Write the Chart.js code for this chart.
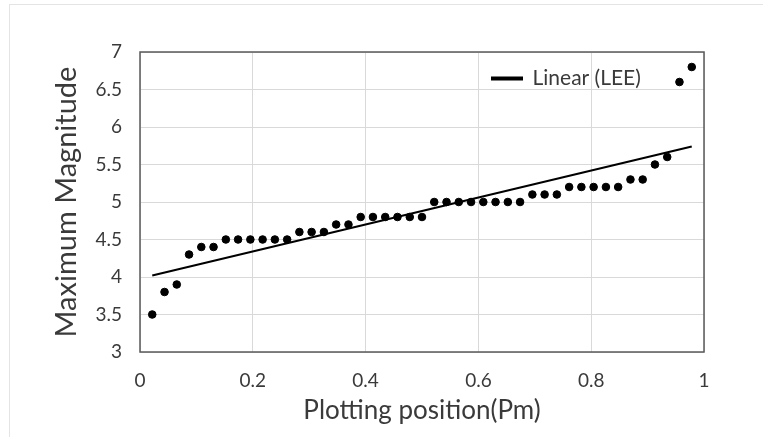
<!DOCTYPE html>
<html>
<head>
<meta charset="utf-8">
<script src="https://cdn.jsdelivr.net/npm/chart.js@4/dist/chart.umd.min.js"></script>
<style>
  html, body { margin: 0; padding: 0; background: #ffffff; }
  #wrap { position: relative; width: 763px; height: 437px; overflow: hidden; }
  #frame { position: absolute; left: 9px; top: 4px; right: -2px; bottom: -2px; border-top: 1px solid #e4e4e4; border-left: 1px solid #e4e4e4; pointer-events: none; }
  canvas { display: block; }
</style>
</head>
<body>
<div id="wrap">
<canvas id="c" width="763" height="437"></canvas>
<div id="frame"></div>
</div>
<script>
// Plotting position (Pm) of each observation
const plottingPosition = [
  0.0217, 0.0435, 0.0652, 0.0870, 0.1087, 0.1304, 0.1522, 0.1739, 0.1957, 0.2174,
  0.2391, 0.2609, 0.2826, 0.3043, 0.3261, 0.3478, 0.3696, 0.3913, 0.4130, 0.4348,
  0.4565, 0.4783, 0.5000, 0.5217, 0.5435, 0.5652, 0.5870, 0.6087, 0.6304, 0.6522,
  0.6739, 0.6957, 0.7174, 0.7391, 0.7609, 0.7826, 0.8043, 0.8261, 0.8478, 0.8696,
  0.8913, 0.9130, 0.9348, 0.9565, 0.9783
];
// Maximum magnitude of each observation
const maxMagnitude = [
  3.5, 3.8, 3.9, 4.3, 4.4, 4.4, 4.5, 4.5, 4.5, 4.5,
  4.5, 4.5, 4.6, 4.6, 4.6, 4.7, 4.7, 4.8, 4.8, 4.8,
  4.8, 4.8, 4.8, 5.0, 5.0, 5.0, 5.0, 5.0, 5.0, 5.0,
  5.0, 5.1, 5.1, 5.1, 5.2, 5.2, 5.2, 5.2, 5.2, 5.3,
  5.3, 5.5, 5.6, 6.6, 6.8
];
// Linear trend line (LEE) end points
const trendX = [0.0217, 0.9783];
const trendY = [4.02, 5.74];
const trendLabel = 'Linear (LEE)';

const xTickLabels = ['0', '0.2', '0.4', '0.6', '0.8', '1'];
const yTickLabels = ['3', '3.5', '4', '4.5', '5', '5.5', '6', '6.5', '7'];
const xTitle = 'Plotting position(Pm)';
const yTitle = 'Maximum Magnitude';

const scatterPoints = plottingPosition.map((x, i) => ({ x: x, y: maxMagnitude[i] }));
const trendPoints = trendX.map((x, i) => ({ x: x, y: trendY[i] }));

const FONT = 'Lato, "Open Sans", "Liberation Sans", sans-serif';
const TEXT = '#3a3a3a';

const plotBorder = {
  id: 'plotBorder',
  afterDatasetsDraw(chart) {
    const a = chart.chartArea, ctx = chart.ctx;
    ctx.save();
    ctx.strokeStyle = '#5a5a5a';
    ctx.lineWidth = 1.5;
    ctx.strokeRect(a.left, a.top, a.right - a.left, a.bottom - a.top);
    ctx.restore();
  }
};

const placeLegend = {
  id: 'placeLegend',
  afterLayout(chart) {
    const lg = chart.legend;
    if (!lg) return;
    const w = lg.width, h = lg.height;
    lg.left = 486; lg.right = lg.left + w;
    lg.top = 62; lg.bottom = lg.top + h;
  }
};

new Chart(document.getElementById('c'), {
  data: {
    datasets: [
      {
        type: 'scatter',
        label: 'Observed',
        data: scatterPoints,
        backgroundColor: '#000000',
        borderColor: '#000000',
        pointRadius: 3.8,
        pointHoverRadius: 3.8,
        order: 2
      },
      {
        type: 'line',
        label: trendLabel,
        data: trendPoints,
        borderColor: '#000000',
        backgroundColor: '#000000',
        borderWidth: 2,
        pointRadius: 0,
        fill: false,
        order: 1
      }
    ]
  },
  options: {
    responsive: false,
    animation: false,
    events: [],
    layout: { padding: { top: 52, right: 59, left: 0, bottom: 0 } },
    plugins: {
      tooltip: { enabled: false },
      legend: {
        display: true,
        position: 'chartArea',
        align: 'start',
        labels: {
          filter: (item) => item.text === trendLabel,
          boxWidth: 30,
          boxHeight: 2,
          padding: 6,
          color: TEXT,
          font: { family: FONT, size: 21 }
        }
      }
    },
    scales: {
      x: {
        type: 'linear',
        min: 0, max: 1,
        afterFit: (s) => { s.height = 85; },
        afterBuildTicks: (s) => { s.ticks = xTickLabels.map((t) => ({ value: parseFloat(t) })); },
        ticks: {
          padding: 17,
          color: TEXT,
          font: { family: FONT, size: 19 },
          callback: (v, i) => xTickLabels[i]
        },
        grid: { color: '#d9d9d9', lineWidth: 1, drawTicks: false },
        border: { display: false },
        title: {
          display: true,
          text: xTitle,
          color: TEXT,
          font: { family: FONT, size: 26 },
          padding: { top: 0, bottom: 11 }
        }
      },
      y: {
        type: 'linear',
        min: 3, max: 7,
        afterFit: (s) => { s.width = 140; },
        afterBuildTicks: (s) => { s.ticks = yTickLabels.map((t) => ({ value: parseFloat(t) })); },
        ticks: {
          padding: 18,
          color: TEXT,
          font: { family: FONT, size: 19 },
          callback: (v, i) => yTickLabels[i]
        },
        grid: { color: '#d9d9d9', lineWidth: 1, drawTicks: false },
        border: { display: false },
        title: {
          display: true,
          text: yTitle,
          color: TEXT,
          font: { family: FONT, size: 29 },
          padding: { top: 49, bottom: 0 }
        }
      }
    }
  },
  plugins: [plotBorder, placeLegend]
});
</script>
</body>
</html>
